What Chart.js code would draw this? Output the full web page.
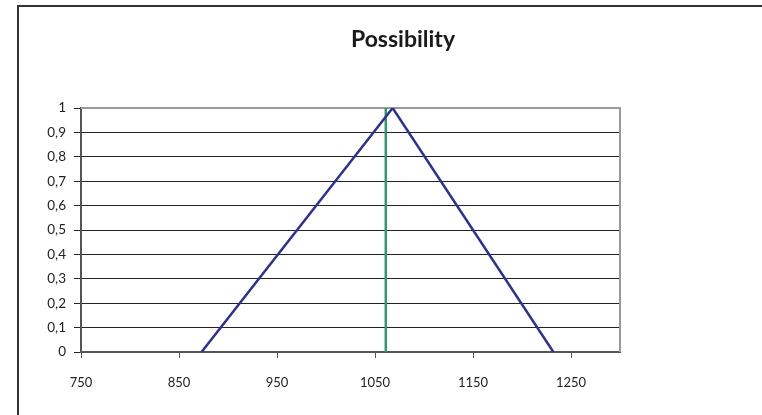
<!DOCTYPE html>
<html>
<head>
<meta charset="utf-8">
<script src="https://cdn.jsdelivr.net/npm/chart.js@4"></script>
<style>
  html, body { margin: 0; padding: 0; background: #fff; overflow: hidden; }
  #wrap { position: relative; width: 762px; height: 415px; }
  #frame { position: absolute; left: 17px; top: 5px; width: 800px; height: 500px; border: 2px solid #333; box-sizing: border-box; }
  #chart { position: absolute; left: 0; top: 0; }
</style>
</head>
<body>
<div id="wrap">
  <div id="frame"></div>
  <canvas id="chart" width="762" height="415"></canvas>
</div>
<script>
// possibility distribution (triangle)
const triX = [873, 1068, 1232];
const triY = [0, 1, 0];
// vertical marker
const markX = [1061, 1061];
const markY = [0, 1];
const xTicks = [750, 850, 950, 1050, 1150, 1250];
const chartTitle = 'Possibility';

const FONT = 'Lato, "Open Sans", sans-serif';

const titleAndBorder = {
  id: 'titleAndBorder',
  beforeDatasetsDraw(chart) {
    const { ctx, chartArea: a } = chart;
    ctx.save();
    ctx.strokeStyle = '#9a9a9a';
    ctx.lineWidth = 2;
    ctx.beginPath();
    ctx.moveTo(a.left, a.top);
    ctx.lineTo(a.right, a.top);
    ctx.lineTo(a.right, a.bottom);
    ctx.stroke();
    ctx.restore();
  },
  afterDraw(chart) {
    const ctx = chart.ctx;
    ctx.save();
    ctx.font = 'bold 23px ' + FONT;
    ctx.fillStyle = '#1a1a1a';
    ctx.textAlign = 'center';
    ctx.textBaseline = 'alphabetic';
    ctx.fillText(chartTitle, 403, 47);
    ctx.restore();
  }
};

const ctx = document.getElementById('chart').getContext('2d');
new Chart(ctx, {
  type: 'scatter',
  data: {
    datasets: [{
      data: triX.map((x, i) => ({ x: x, y: triY[i] })),
      showLine: true,
      borderColor: '#2e3192',
      borderWidth: 2.5,
      pointRadius: 0,
      tension: 0
    }, {
      data: markX.map((x, i) => ({ x: x, y: markY[i] })),
      showLine: true,
      borderColor: '#2a9d67',
      borderWidth: 2.5,
      pointRadius: 0,
      tension: 0
    }]
  },
  options: {
    responsive: false,
    animation: false,
    layout: { padding: { left: 0, right: 142, top: 108, bottom: 0 } },
    plugins: {
      legend: { display: false },
      tooltip: { enabled: false },
      title: { display: false }
    },
    scales: {
      x: {
        type: 'linear',
        min: 750,
        max: 1300,
        afterBuildTicks: scale => { scale.ticks = xTicks.map(v => ({ value: v })); },
        afterFit: scale => { scale.height = 63; },
        border: { color: '#555', width: 2 },
        grid: { drawOnChartArea: false, drawTicks: true, tickLength: 6, color: '#555' },
        ticks: {
          color: '#222',
          font: { family: FONT, size: 13 },
          padding: 17,
          maxRotation: 0,
          callback: v => String(v)
        }
      },
      y: {
        min: 0,
        max: 1,
        afterFit: scale => { scale.width = 81; },
        border: { color: '#555', width: 2 },
        grid: { color: '#222', lineWidth: 1, tickLength: 7 },
        ticks: {
          stepSize: 0.1,
          color: '#222',
          font: { family: FONT, size: 13.5 },
          padding: 8,
          callback: v => String(Math.round(v * 10) / 10).replace('.', ',')
        }
      }
    }
  },
  plugins: [titleAndBorder]
});
</script>
</body>
</html>
